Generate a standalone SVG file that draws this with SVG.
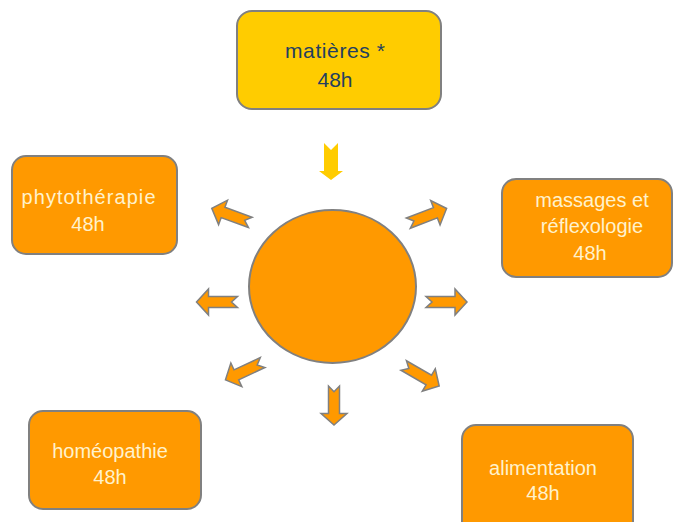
<svg xmlns="http://www.w3.org/2000/svg" width="673" height="522" viewBox="0 0 673 522">
<defs>
<style>
.box{fill:#FF9900;stroke:#808080;stroke-width:2}
.top{fill:#FFCC00;stroke:#808080;stroke-width:2}
.t{font-family:"Liberation Sans","Open Sans",sans-serif;font-size:20px;fill:#FFF2CC;text-anchor:middle}
.tt{font-family:"Liberation Sans","Open Sans",sans-serif;font-size:21px;fill:#243F60;text-anchor:middle}
.arr{fill:#FF9900;stroke:#808080;stroke-width:1.5;stroke-linejoin:miter}
</style>
<path id="a" d="M-20,-5.5 L9,-5.5 L9,-13 L21,0 L9,13 L9,5.5 L-20,5.5 L-14,0 Z"/>
</defs>
<g id="center">
<ellipse cx="332.5" cy="286.5" rx="83.5" ry="76.5" fill="#FF9900" stroke="#808080" stroke-width="2"/>
</g>
<g id="matieres">
<rect class="top" x="237" y="11" width="204" height="98" rx="15"/>
<text class="tt" x="335" y="58" textLength="100" lengthAdjust="spacing">matières *</text>
<text class="tt" x="335" y="87">48h</text>
</g>
<g id="phytotherapie">
<rect class="box" x="12" y="156" width="165" height="98" rx="14"/>
<text class="t" x="88.5" y="204" font-size="21" textLength="134" lengthAdjust="spacing">phytothérapie</text>
<text class="t" x="88" y="231" font-size="21">48h</text>
</g>
<g id="massages">
<rect class="box" x="502" y="179" width="170" height="98" rx="14"/>
<text class="t" x="592" y="207">massages et</text>
<text class="t" x="592" y="233">réflexologie</text>
<text class="t" x="590" y="260">48h</text>
</g>
<g id="homeopathie">
<rect class="box" x="29" y="411" width="172" height="98" rx="14"/>
<text class="t" x="110" y="458" font-size="19">homéopathie</text>
<text class="t" x="110" y="484">48h</text>
</g>
<g id="alimentation">
<rect class="box" x="462" y="425" width="171" height="110" rx="14"/>
<text class="t" x="543" y="475">alimentation</text>
<text class="t" x="543" y="500">48h</text>
</g>
<g id="connectors">
<path d="M324,143 L331,150 L338,143 L338,171 L343,171 L331,180 L319,171 L324,171 Z" fill="#FFCC00"/>
<use href="#a" class="arr" transform="translate(446,302)"/>
<use href="#a" class="arr" transform="translate(217.5,302) rotate(180)"/>
<use href="#a" class="arr" transform="translate(334,405) rotate(90) scale(0.95,1)"/>
<use href="#a" class="arr" transform="translate(231.5,215.5) rotate(200)"/>
<use href="#a" class="arr" transform="translate(427,216) rotate(-21)"/>
<use href="#a" class="arr" transform="translate(244.5,371) rotate(155)"/>
<use href="#a" class="arr" transform="translate(421,375.5) rotate(30)"/>
</g>
</svg>
